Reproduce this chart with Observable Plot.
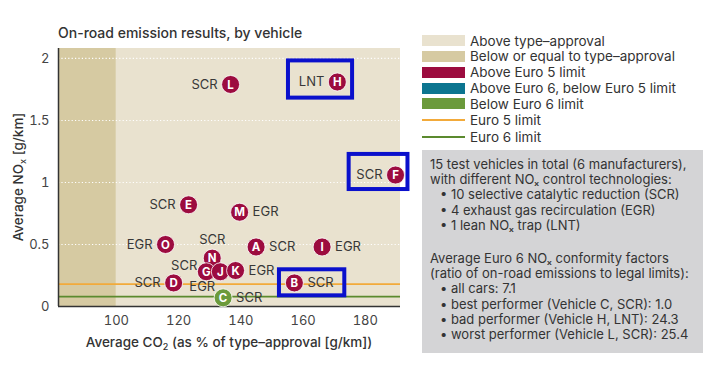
<!DOCTYPE html>
<html>
<head>
<meta charset="utf-8">
<script src="https://cdn.jsdelivr.net/npm/d3@7"></script>
<script src="https://cdn.jsdelivr.net/npm/@observablehq/plot@0.6"></script>
<style>
  body { margin: 0; background: #fff; font-family: Inter, "Noto Sans", sans-serif; }
  #wrap { position: relative; width: 720px; height: 366px; overflow: hidden; background: #fff; }
  #chart { position: absolute; left: 0; top: 0; }
  #title { position: absolute; left: 58px; top: 24px; font-size: 14px; font-weight: 500; color: #333; white-space: nowrap; }
  .leg { position: absolute; left: 422px; height: 11px; width: 43px; }
  .legline { position: absolute; left: 422px; width: 43px; height: 2px; }
  .legtxt { position: absolute; left: 470px; font-size: 13.5px; color: #333; white-space: nowrap; line-height: 16px; }
  #info { position: absolute; left: 422px; top: 150px; width: 281px; height: 203px; background: #d4d4d6;
          box-sizing: border-box; padding: 7px 0 0 8px; font-size: 13px; color: #333; line-height: 15.2px; white-space: nowrap; }
  #info .b { padding-left: 10px; }
  #info .gap { height: 18px; }
</style>
</head>
<body>
<div id="wrap">
  <div id="chart"></div>
  <div id="title">On-road emission results, by vehicle</div>
  <div id="legend"></div>
  <div id="info"></div>
</div>
<script>
// ---- data ----
const vehicles = ["L","H","F","E","M","O","A","I","N","G","J","K","D","B","C"];
const co2 = [136.7,171.0,189.7,123.2,139.6,115.8,144.9,166.1,130.8,128.9,133.4,138.3,118.4,157.2,134.3];
const nox = [1.79,1.81,1.06,0.82,0.76,0.50,0.48,0.48,0.39,0.28,0.28,0.29,0.19,0.19,0.07];
const tech = ["SCR","LNT","SCR","SCR","EGR","EGR","SCR","EGR","SCR","SCR","EGR","EGR","SCR","SCR","SCR"];
const labelSide = ["left","left","left","left","right","left","right","right","above","upleft","lowleft","right","left","right","right"];
const status = ["Above Euro 5 limit","Above Euro 5 limit","Above Euro 5 limit","Above Euro 5 limit","Above Euro 5 limit",
  "Above Euro 5 limit","Above Euro 5 limit","Above Euro 5 limit","Above Euro 5 limit","Above Euro 5 limit",
  "Above Euro 5 limit","Above Euro 5 limit","Above Euro 5 limit","Above Euro 5 limit","Below Euro 6 limit"];

const statusNames = ["Above Euro 5 limit","Above Euro 6, below Euro 5 limit","Below Euro 6 limit"];
const statusColors = ["#9c0c3f","#0c7590","#6b9a3b"];

const regionNames = ["Above type\u2013approval","Below or equal to type\u2013approval"];
const regionColors = ["#e9e2cf","#d6caa2"];
const typeApproval = 100;

const limitNames = ["Euro 5 limit","Euro 6 limit"];
const limitValues = [0.18, 0.08];
const limitColors = ["#f2aa3a","#5b8a2e"];

const highlighted = ["H","F","B"];
const boxX1 = [155.3, 174.8, 152.4];
const boxX2 = [175.9, 193.7, 173.4];
const boxY1 = [1.68, 0.943, 0.086];
const boxY2 = [1.98, 1.226, 0.296];

const xDomain = [81.4, 191.3];
const yDomain = [0, 2.08];
const xTicks = [100,120,140,160,180];
const yTicks = [0,0.5,1,1.5,2];

const infoLines = [
  ["15 test vehicles in total (6 manufacturers),", false],
  ["with different NO\u2093 control technologies:", false],
  ["\u2022 10 selective catalytic reduction (SCR)", true],
  ["\u2022 4 exhaust gas recirculation (EGR)", true],
  ["\u2022 1 lean NO\u2093 trap (LNT)", true],
  [null, false],
  ["Average Euro 6 NO\u2093 conformity factors", false],
  ["(ratio of on-road emissions to legal limits):", false],
  ["\u2022 all cars: 7.1", true],
  ["\u2022 best performer (Vehicle C, SCR): 1.0", true],
  ["\u2022 bad performer (Vehicle H, LNT): 24.3", true],
  ["\u2022 worst performer (Vehicle L, SCR): 25.4", true]
];

// ---- build ----
const data = vehicles.map((v,i) => ({id: v, x: co2[i], y: nox[i], tech: tech[i], side: labelSide[i], status: status[i]}));
const regions = [
  {name: regionNames[1], x1: xDomain[0], x2: typeApproval},
  {name: regionNames[0], x1: typeApproval, x2: xDomain[1]}
];
const boxes = highlighted.map((h,i) => ({id: h, x1: boxX1[i], x2: boxX2[i], y1: boxY1[i], y2: boxY2[i]}));
const limits = limitNames.map((n,i) => ({name: n, y: limitValues[i], color: limitColors[i]}));

const labelStyle = {fontSize: 13, fill: "#383838", fontFamily: "Inter, sans-serif"};
const sides = {
  left: {dx: -13, dy: 0, textAnchor: "end"},
  right: {dx: 13, dy: 0, textAnchor: "start"},
  above: {dx: 0, dy: -18, textAnchor: "middle"},
  upleft: {dx: -9, dy: -6, textAnchor: "end"},
  lowleft: {dx: -31, dy: 15, textAnchor: "start"}
};
const labelMarks = Object.entries(sides).map(([k, o]) =>
  Plot.text(data.filter(d => d.side === k), {x: "x", y: "y", text: "tech", ...o, ...labelStyle}));

const chart = Plot.plot({
  width: 420, height: 366,
  marginLeft: 58, marginRight: 20, marginTop: 48, marginBottom: 60,
  style: {fontFamily: "Inter, sans-serif", background: "transparent", overflow: "visible"},
  x: {domain: xDomain},
  y: {domain: yDomain},
  color: {domain: statusNames, range: statusColors},
  marks: [
    Plot.rect(regions, {x1: "x1", x2: "x2", y1: yDomain[0], y2: yDomain[1],
      fill: d => regionColors[regionNames.indexOf(d.name)]}),
    Plot.ruleY(yTicks.filter(t => t > 0), {stroke: "#fff", strokeDasharray: "1.2,2.2", strokeWidth: 1.1}),
    Plot.ruleY(limits, {y: "y", stroke: "color", strokeWidth: 1.6}),
    Plot.ruleX([xDomain[0]], {stroke: "#333", strokeWidth: 1.5}),
    Plot.ruleY([0], {stroke: "#333", strokeWidth: 1.5}),
    Plot.axisX({ticks: xTicks, tickSize: 0, tickPadding: 9, fontSize: 13, label: null, fill: "#444"}),
    Plot.axisY({ticks: yTicks, tickSize: 0, tickPadding: 9, fontSize: 13, label: null, fill: "#444",
      tickFormat: d => String(d)}),
    ...labelMarks,
    Plot.dot(data, {x: "x", y: "y", r: 9, fill: "status", stroke: "#fff", strokeWidth: 0.8}),
    Plot.text(data, {x: "x", y: "y", text: "id", fill: "#fff", fontWeight: 700, fontSize: 11.5, dy: 0.5}),
    Plot.rect(boxes, {x1: "x1", x2: "x2", y1: "y1", y2: "y2", fill: "none", stroke: "#0a10cc", strokeWidth: 4})
  ]
});
document.getElementById("chart").appendChild(chart);

// axis titles with subscripts
const svg = d3.select(chart);
const xl = svg.append("text").attr("x", 229).attr("y", 347).attr("text-anchor", "middle")
  .attr("font-size", 13.5).attr("font-weight", 500).attr("fill", "#333");
xl.append("tspan").text("Average CO");
xl.append("tspan").text("2").attr("font-size", 9).attr("dy", 3);
xl.append("tspan").text(" (as % of type\u2013approval [g/km])").attr("dy", -3);
const yl = svg.append("text").attr("transform", "translate(23,177) rotate(-90)").attr("text-anchor", "middle")
  .attr("font-size", 13.5).attr("font-weight", 500).attr("fill", "#333");
yl.append("tspan").text("Average NO");
yl.append("tspan").text("x").attr("font-size", 9).attr("dy", 3);
yl.append("tspan").text(" [g/km]").attr("dy", -3);

// legend
const legend = document.getElementById("legend");
const legItems = [
  ...regionNames.map((n,i) => ({type: "box", name: n, color: regionColors[i]})),
  ...statusNames.map((n,i) => ({type: "box", name: n, color: statusColors[i]})),
  ...limitNames.map((n,i) => ({type: "line", name: n, color: limitColors[i]}))
];
const rowY = [40.5, 56, 72, 88, 103.5, 120, 136.5];
legItems.forEach((it, i) => {
  const cy = rowY[i];
  const s = document.createElement("div");
  if (it.type === "box") {
    s.className = "leg"; s.style.top = (cy - 5.5) + "px"; s.style.background = it.color;
  } else {
    s.className = "legline"; s.style.top = (cy - 1) + "px"; s.style.background = it.color;
  }
  legend.appendChild(s);
  const t = document.createElement("div");
  t.className = "legtxt"; t.style.top = (cy - 8) + "px"; t.textContent = it.name;
  legend.appendChild(t);
});

// info box
const info = document.getElementById("info");
infoLines.forEach(([txt, bullet]) => {
  const d = document.createElement("div");
  if (txt === null) d.className = "gap";
  else { d.textContent = txt; if (bullet) d.className = "b"; }
  info.appendChild(d);
});
</script>
</body>
</html>
